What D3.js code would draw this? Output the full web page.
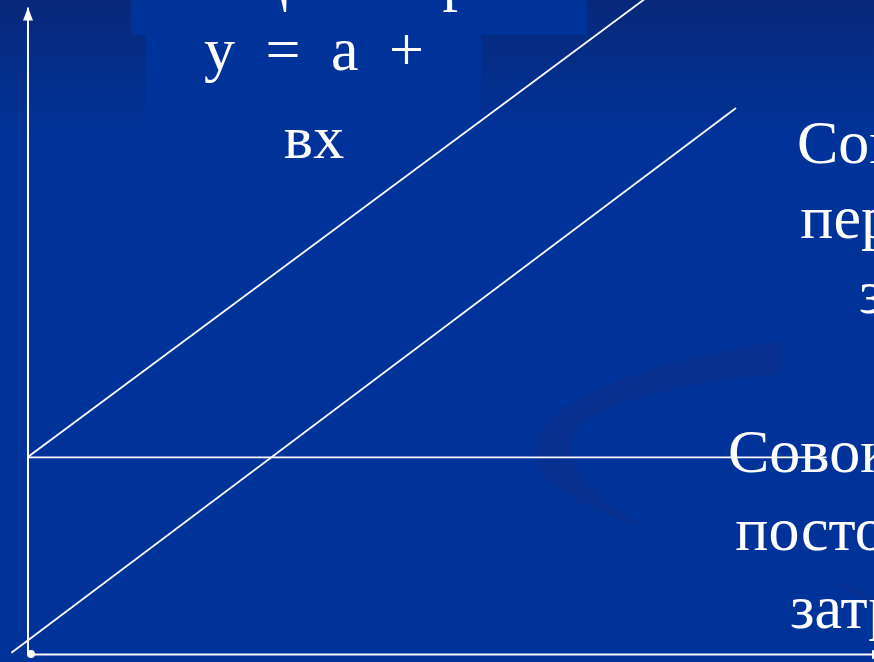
<!DOCTYPE html>
<html>
<head>
<meta charset="utf-8">
<script src="https://cdn.jsdelivr.net/npm/d3@7"></script>
<style>
  body { margin: 0; background: #003399; }
  svg { display: block; }
  text { font-family: 'Liberation Serif', 'Times New Roman', serif; fill: #fff; }
</style>
</head>
<body>
<svg id="chart" width="874" height="662"></svg>
<script>
// cost lines, in arbitrary units (x = volume, y = costs)
const fixedX = [0, 94.4];
const fixedY = [30.4, 30.4];
const variableX = [-1.9, 83.7];
const variableY = [0.2, 84.4];
const totalX = [0, 73.6];
const totalY = [30.4, 101.9];

const titleText = 'Общие затраты';
const formulaLines = ['у = а +', 'вх'];
const variableLabel = ['Совокупные', 'переменные', 'затраты'];
const fixedLabel = ['Совокупные', 'постоянные', 'затраты'];

const W = 874, H = 662;
const svg = d3.select('#chart');

const x = d3.scaleLinear().domain([0, 100]).range([27.5, 874]);
const y = d3.scaleLinear().domain([0, 100]).range([654, 7]);

// background
const defs = svg.append('defs');
const grad = defs.append('linearGradient')
  .attr('id', 'bg')
  .attr('gradientUnits', 'userSpaceOnUse')
  .attr('x1', 0).attr('y1', 0).attr('x2', 0).attr('y2', 140);
grad.append('stop').attr('offset', 0).attr('stop-color', '#08287a');
grad.append('stop').attr('offset', 1).attr('stop-color', '#003399');

defs.append('marker')
  .attr('id', 'arrowUp')
  .attr('viewBox', '0 0 13 10')
  .attr('refX', 13).attr('refY', 5)
  .attr('markerWidth', 13).attr('markerHeight', 10)
  .attr('markerUnits', 'userSpaceOnUse')
  .attr('orient', 'auto')
  .append('path').attr('d', 'M0,0L13,5L0,10Z').attr('fill', '#fff');

defs.append('marker')
  .attr('id', 'arrowRight')
  .attr('viewBox', '0 0 13 10')
  .attr('refX', 3).attr('refY', 5)
  .attr('markerWidth', 13).attr('markerHeight', 10)
  .attr('markerUnits', 'userSpaceOnUse')
  .attr('orient', 'auto')
  .append('path').attr('d', 'M0,0L13,5L0,10Z').attr('fill', '#fff');

svg.append('rect').attr('width', W).attr('height', H).attr('fill', 'url(#bg)');

// decorative swoosh
svg.append('path')
  .attr('d', 'M782,342C700,350 590,382 548,422C512,458 545,497 645,528C592,497 562,462 574,434C598,400 690,382 782,374Z')
  .attr('fill', '#0a2d8a').attr('opacity', 0.7);
svg.append('path')
  .attr('d', 'M818,577C845,584 862,591 874,597L874,604C858,596 840,587 818,577Z')
  .attr('fill', '#0a2d8a').attr('opacity', 0.5);

// text boxes
svg.append('rect').attr('x', 131).attr('y', 0).attr('width', 456).attr('height', 35).attr('fill', '#003399');
svg.append('rect').attr('x', 146).attr('y', 35).attr('width', 335).attr('height', 145).attr('fill', '#003399');

svg.append('text')
  .attr('x', 366).attr('y', -1)
  .attr('text-anchor', 'middle')
  .attr('font-size', 62)
  .text(titleText);

svg.append('g')
  .selectAll('text')
  .data(formulaLines)
  .join('text')
  .attr('x', 314)
  .attr('y', (d, i) => i === 0 ? 70 : 158)
  .attr('text-anchor', 'middle')
  .attr('font-size', 62)
  .attr('word-spacing', 15)
  .text(d => d);

// labels
const label = (lines, cx, y0, dy) => {
  svg.append('g')
    .selectAll('text')
    .data(lines)
    .join('text')
    .attr('x', cx)
    .attr('y', (d, i) => y0 + i * dy)
    .attr('text-anchor', 'middle')
    .attr('font-size', 62)
    .text(d => d);
};

label(variableLabel, 961, 163, 75);
label(fixedLabel, 892, 472, 78);

// axes
const xAxis = d3.axisBottom(x).ticks(0).tickSizeOuter(0);
const yAxis = d3.axisLeft(y).ticks(0).tickSizeOuter(0);

svg.append('g')
  .attr('class', 'axis axis-x')
  .attr('transform', `translate(0, ${y(0)})`)
  .call(xAxis)
  .call(g => g.select('.domain').attr('stroke', '#fff').attr('stroke-width', 2).attr('marker-end', 'url(#arrowRight)'));

svg.append('g')
  .attr('class', 'axis axis-y')
  .attr('transform', `translate(${x(0)}, 0)`)
  .call(yAxis)
  .call(g => g.select('.domain').attr('stroke', '#fff').attr('stroke-width', 2).attr('marker-end', 'url(#arrowUp)'));

svg.append('circle')
  .attr('cx', x(0) + 3.5).attr('cy', y(0))
  .attr('r', 4).attr('fill', '#fff');

// cost lines
const line = d3.line()
  .x(d => x(d[0]))
  .y(d => y(d[1]));

const series = [
  d3.zip(fixedX, fixedY),
  d3.zip(variableX, variableY),
  d3.zip(totalX, totalY)
];

svg.append('g')
  .selectAll('path')
  .data(series)
  .join('path')
  .attr('d', line)
  .attr('fill', 'none')
  .attr('stroke', '#fff')
  .attr('stroke-width', 1.8);
</script>
</body>
</html>
